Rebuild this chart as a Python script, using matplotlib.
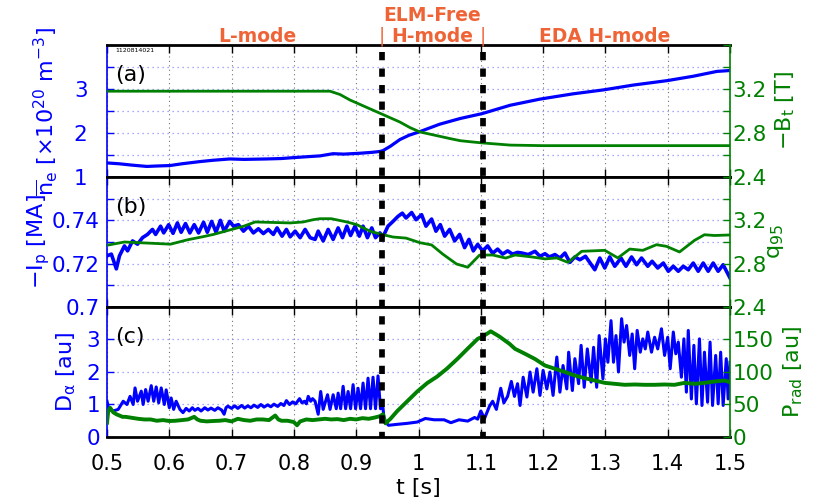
import numpy as np
import matplotlib
matplotlib.use("Agg")
import matplotlib.pyplot as plt

plt.rcParams['font.family'] = ['DejaVu Sans']
plt.rcParams['mathtext.fontset'] = 'dejavusans'
plt.rcParams['mathtext.default'] = 'regular'

# ---------------- data ----------------
# (a) line-averaged density [1e20 m^-3] and -Bt [T]
t_ne = [0.500, 0.520, 0.540, 0.564, 0.580, 0.601, 0.620, 0.649, 0.670, 0.697,
        0.720, 0.756, 0.780, 0.799, 0.820, 0.842, 0.863, 0.880, 0.906, 0.925,
        0.938, 0.943, 0.955, 0.970, 0.985, 1.000, 1.034, 1.067, 1.102, 1.147,
        1.195, 1.248, 1.297, 1.345, 1.399, 1.441, 1.479, 1.500]
ne = [1.32, 1.30, 1.27, 1.24, 1.25, 1.26, 1.30, 1.35, 1.38, 1.41,
      1.40, 1.41, 1.42, 1.44, 1.46, 1.48, 1.53, 1.52, 1.54, 1.56,
      1.58, 1.60, 1.70, 1.85, 1.95, 2.02, 2.20, 2.33, 2.44, 2.63,
      2.77, 2.89, 2.98, 3.09, 3.19, 3.29, 3.40, 3.42]

t_bt = [0.500, 0.600, 0.700, 0.800, 0.858, 0.874, 0.890, 0.906, 0.922, 0.938,
        0.954, 0.970, 0.986, 1.002, 1.018, 1.034, 1.050, 1.067, 1.084, 1.102,
        1.125, 1.147, 1.200, 1.300, 1.400, 1.500]
bt = [3.18, 3.18, 3.18, 3.18, 3.18, 3.15, 3.10, 3.06, 3.02, 2.98,
      2.94, 2.90, 2.85, 2.81, 2.79, 2.77, 2.75, 2.73, 2.72, 2.71,
      2.70, 2.69, 2.685, 2.685, 2.685, 2.685]

# (b) -Ip [MA] and q95
t_ip = [0.500, 0.507, 0.515, 0.520, 0.528, 0.533, 0.541, 0.549, 0.557, 0.565,
        0.573, 0.578, 0.586, 0.591, 0.599, 0.606, 0.613, 0.619, 0.626, 0.633,
        0.640, 0.647, 0.655, 0.661, 0.668, 0.675, 0.682, 0.688, 0.697, 0.703,
        0.711, 0.719, 0.727, 0.735, 0.743, 0.751, 0.759, 0.767, 0.773, 0.781,
        0.788, 0.794, 0.802, 0.810, 0.818, 0.826, 0.834, 0.839, 0.847, 0.855,
        0.863, 0.871, 0.878, 0.885, 0.891, 0.898, 0.905, 0.911, 0.918, 0.925,
        0.931, 0.938, 0.943, 0.951, 0.959, 0.967, 0.974, 0.980, 0.989, 0.996,
        1.005, 1.012, 1.021, 1.028, 1.035, 1.042, 1.050, 1.058, 1.066, 1.074,
        1.081, 1.088, 1.095, 1.103, 1.111, 1.119, 1.127, 1.135, 1.143, 1.151,
        1.159, 1.166, 1.176, 1.187, 1.195, 1.203, 1.210, 1.219, 1.227, 1.235,
        1.243, 1.251, 1.259, 1.268, 1.283, 1.291, 1.299, 1.307, 1.315, 1.325,
        1.333, 1.342, 1.350, 1.358, 1.368, 1.375, 1.384, 1.393, 1.401, 1.409,
        1.417, 1.425, 1.433, 1.441, 1.449, 1.457, 1.465, 1.473, 1.481, 1.489,
        1.500]
ip = [0.7236, 0.7244, 0.7176, 0.7236, 0.7282, 0.7259, 0.7305, 0.7290, 0.7320, 0.7335,
      0.7358, 0.7335, 0.7373, 0.7342, 0.7380, 0.7340, 0.7388, 0.7345, 0.7385, 0.7342,
      0.7380, 0.7342, 0.7391, 0.7345, 0.7395, 0.7345, 0.7400, 0.7350, 0.7395, 0.7373,
      0.7380, 0.7350, 0.7373, 0.7342, 0.7361, 0.7339, 0.7358, 0.7335, 0.7365, 0.7327,
      0.7358, 0.7324, 0.7350, 0.7320, 0.7358, 0.7320, 0.7312, 0.7350, 0.7305, 0.7358,
      0.7312, 0.7365, 0.7320, 0.7373, 0.7330, 0.7373, 0.7327, 0.7373, 0.7320, 0.7365,
      0.7320, 0.7342, 0.7324, 0.7373, 0.7395, 0.7418, 0.7433, 0.7411, 0.7436, 0.7403,
      0.7426, 0.7373, 0.7406, 0.7350, 0.7380, 0.7327, 0.7358, 0.7305, 0.7335, 0.7274,
      0.7312, 0.7259, 0.7289, 0.7259, 0.7282, 0.7248, 0.7267, 0.7244, 0.7259, 0.7244,
      0.7252, 0.7249, 0.7242, 0.7257, 0.7234, 0.7246, 0.7231, 0.7242, 0.7226, 0.7249,
      0.7206, 0.7231, 0.7218, 0.7234, 0.7172, 0.7226, 0.7180, 0.7231, 0.7188, 0.7226,
      0.7188, 0.7231, 0.7195, 0.7226, 0.7188, 0.7211, 0.7180, 0.7203, 0.7165, 0.7188,
      0.7165, 0.7188, 0.7172, 0.7203, 0.7165, 0.7203, 0.7165, 0.7203, 0.7165, 0.7195,
      0.7134]

t_q = [0.500, 0.528, 0.602, 0.629, 0.655, 0.671, 0.693, 0.719, 0.738, 0.794,
       0.815, 0.831, 0.842, 0.860, 0.885, 0.901, 0.922, 0.941, 0.959, 0.980,
       1.002, 1.021, 1.039, 1.061, 1.079, 1.098, 1.119, 1.140, 1.155, 1.182,
       1.203, 1.222, 1.240, 1.262, 1.299, 1.320, 1.339, 1.360, 1.382, 1.398,
       1.419, 1.443, 1.459, 1.475, 1.500]
q95 = [2.97, 3.00, 2.98, 3.02, 3.05, 3.07, 3.105, 3.145, 3.185, 3.176,
       3.185, 3.206, 3.215, 3.215, 3.185, 3.16, 3.10, 3.07, 3.046, 3.036,
       2.994, 2.973, 2.888, 2.797, 2.767, 2.879, 2.88, 2.852, 2.88, 2.862,
       2.844, 2.853, 2.812, 2.914, 2.923, 2.853, 2.935, 2.923, 2.975, 2.96,
       2.908, 3.015, 3.067, 3.06, 3.065]

# (c) D-alpha [au] and Prad [au]
t_da = [0.500, 0.503, 0.510, 0.518, 0.526, 0.532, 0.537, 0.542, 0.545, 0.549,
        0.555, 0.558, 0.562, 0.566, 0.571, 0.575, 0.579, 0.583, 0.587, 0.592,
        0.595, 0.600, 0.603, 0.607, 0.611, 0.617, 0.622, 0.627, 0.632, 0.637,
        0.641, 0.646, 0.651, 0.657, 0.662, 0.667, 0.673, 0.678, 0.684, 0.688,
        0.691, 0.694, 0.700, 0.705, 0.710, 0.716, 0.721, 0.726, 0.731, 0.736,
        0.742, 0.747, 0.752, 0.758, 0.763, 0.768, 0.774, 0.779, 0.784, 0.788,
        0.793, 0.798, 0.803, 0.809, 0.813, 0.817, 0.820, 0.823, 0.827, 0.830,
        0.834, 0.839, 0.843, 0.847, 0.854, 0.858, 0.863, 0.868, 0.871, 0.875,
        0.879, 0.883, 0.887, 0.891, 0.895, 0.899, 0.903, 0.907, 0.911, 0.915,
        0.919, 0.923, 0.927, 0.931, 0.935, 0.939, 0.943, 0.945, 0.952, 0.966,
        0.982, 0.998, 1.011, 1.025, 1.041, 1.052, 1.065, 1.079, 1.090, 1.095,
        1.100, 1.106, 1.114, 1.119, 1.125, 1.132, 1.137, 1.143, 1.149, 1.154,
        1.159, 1.163, 1.168, 1.174, 1.179, 1.184, 1.190, 1.195, 1.200, 1.206,
        1.211, 1.216, 1.222, 1.227, 1.232, 1.238, 1.241, 1.247, 1.251, 1.257,
        1.261, 1.266, 1.271, 1.277, 1.281, 1.286, 1.290, 1.296, 1.300, 1.304,
        1.309, 1.313, 1.317, 1.321, 1.326, 1.330, 1.334, 1.339, 1.343, 1.347,
        1.351, 1.356, 1.360, 1.364, 1.368, 1.374, 1.379, 1.384, 1.390, 1.395,
        1.400, 1.404, 1.409, 1.413, 1.417, 1.422, 1.426, 1.430, 1.433, 1.438,
        1.442, 1.446, 1.451, 1.455, 1.459, 1.464, 1.468, 1.472, 1.477, 1.481,
        1.485, 1.489, 1.494, 1.497, 1.500]
da = [1.10, 0.85, 0.80, 0.85, 1.10, 1.00, 1.25, 1.00, 1.51, 1.10,
      1.41, 1.00, 1.46, 1.10, 1.58, 1.10, 1.54, 1.05, 1.51, 1.00,
      1.45, 0.90, 1.20, 0.85, 1.10, 0.85, 0.75, 0.88, 0.80, 0.90,
      0.82, 0.88, 0.80, 0.90, 0.83, 0.89, 0.82, 0.90, 0.83, 0.70,
      0.90, 0.95, 0.88, 0.96, 0.88, 0.97, 0.89, 0.96, 0.90, 0.98,
      0.91, 1.00, 0.92, 0.99, 0.93, 1.01, 0.94, 1.03, 0.97, 1.12,
      1.00, 1.08, 1.02, 1.18, 1.05, 1.10, 1.02, 1.25, 1.10, 1.18,
      1.10, 0.70, 1.40, 0.85, 1.30, 0.85, 1.30, 0.87, 1.35, 0.87,
      1.56, 0.87, 1.40, 0.87, 1.61, 0.87, 1.50, 0.87, 1.66, 0.87,
      1.81, 0.87, 1.84, 0.87, 1.88, 0.87, 0.90, 0.49, 0.36, 0.39,
      0.42, 0.46, 0.57, 0.53, 0.53, 0.44, 0.53, 0.49, 0.60, 0.55,
      0.80, 0.57, 0.95, 1.10, 0.85, 1.50, 1.05, 1.25, 1.71, 1.25,
      1.64, 0.97, 1.84, 1.23, 2.00, 1.38, 2.10, 1.28, 2.05, 1.48,
      2.00, 1.28, 2.46, 1.38, 2.20, 1.48, 2.61, 1.43, 2.41, 1.64,
      2.82, 1.53, 2.71, 1.69, 2.76, 1.53, 3.12, 1.79, 3.02, 2.30,
      3.58, 2.30, 3.12, 2.00, 3.64, 2.92, 3.43, 2.51, 3.17, 2.10,
      3.28, 2.61, 3.02, 2.71, 3.23, 2.61, 3.07, 2.71, 3.33, 2.51,
      3.07, 2.10, 3.23, 2.56, 2.92, 1.84, 3.02, 1.38, 3.28, 1.17,
      2.82, 1.02, 3.02, 0.97, 2.61, 1.07, 2.92, 0.97, 2.51, 1.02,
      2.61, 0.97, 2.41, 1.17, 2.30]

t_pr = [0.500, 0.502, 0.505, 0.510, 0.515, 0.520, 0.525, 0.530, 0.540, 0.550,
        0.560, 0.570, 0.580, 0.590, 0.600, 0.610, 0.620, 0.630, 0.640, 0.645,
        0.650, 0.660, 0.670, 0.680, 0.690, 0.700, 0.710, 0.720, 0.730, 0.740,
        0.750, 0.760, 0.770, 0.775, 0.780, 0.790, 0.800, 0.805, 0.810, 0.820,
        0.830, 0.840, 0.850, 0.860, 0.870, 0.880, 0.890, 0.900, 0.910, 0.920,
        0.930, 0.938, 0.943, 0.947,
        0.955, 0.966, 0.982, 0.998, 1.014, 1.030, 1.046, 1.063, 1.079, 1.095,
        1.103, 1.116, 1.130, 1.146, 1.155, 1.171, 1.187, 1.203, 1.219, 1.235,
        1.251, 1.267, 1.283, 1.299, 1.315, 1.331, 1.347, 1.363, 1.379, 1.395,
        1.411, 1.427, 1.443, 1.459, 1.475, 1.491, 1.500]
prad = [22, 40, 45, 38, 35, 33, 31, 31, 29.5, 28,
        27, 27, 25, 26, 24.6, 25, 26, 27, 31, 27,
        25, 24, 24.6, 25, 26, 24, 28, 26, 25, 27,
        27, 26, 33, 27, 25, 25, 23, 18, 24, 27,
        26, 27, 28, 27, 27.5, 26, 28, 27, 29, 28,
        30, 32, 35, 21,
        28, 40, 55, 70, 83, 93, 105.5, 120.7, 136, 151,
        154.5, 162.6, 154.5, 143.4, 135.6, 128, 120, 110, 105, 100,
        94.6, 90.5, 86.9, 83.3, 81.8, 80.3, 80.8, 80.3, 80.3, 80.8,
        80.3, 83.3, 81.8, 83.3, 85.4, 86.9, 84.4]

# transitions (L -> ELM-free H, ELM-free -> EDA H)
t_trans = [0.941, 1.103]

# ticks
x_ticks = [0.5, 0.6, 0.7, 0.8, 0.9, 1.0, 1.1, 1.2, 1.3, 1.4, 1.5]
x_labels = ['0.5', '0.6', '0.7', '0.8', '0.9', '1', '1.1', '1.2', '1.3', '1.4', '1.5']
ya_ticks = [1, 1.5, 2, 2.5, 3, 3.5, 4]
ya_labels = ['1', '', '2', '', '3', '', '']
yb_ticks = [0.70, 0.71, 0.72, 0.73, 0.74, 0.75, 0.76]
yb_labels = ['0.7', '', '0.72', '', '0.74', '', '']
yc_ticks = [0, 1, 2, 3, 4]
yc_labels = ['0', '1', '2', '3', '']
r_ticks = [2.4, 2.6, 2.8, 3.0, 3.2, 3.4, 3.6]
r_labels = ['2.4', '', '2.8', '', '3.2', '', '']
rc_ticks = [0, 50, 100, 150, 200]
rc_labels = ['0', '50', '100', '150', '']

BLUE = '#0000FF'
GREEN = '#008000'
ORANGE = '#EF6437'
GRIDBLUE = (0.55, 0.55, 1.0)
GRIDGRAY = (0.45, 0.45, 0.45)

fig = plt.figure(figsize=(8.19, 5.04), dpi=100)
L = 107 / 819
W = 623 / 819
H = 1 / 504
ax_a = fig.add_axes([L, 1 - 177 * H, W, 132 * H])
ax_b = fig.add_axes([L, 1 - 307 * H, W, 130 * H])
ax_c = fig.add_axes([L, 1 - 437 * H, W, 130 * H])
tw_a = ax_a.twinx()
tw_b = ax_b.twinx()
tw_c = ax_c.twinx()

def style(ax, tw, yt, yl, ylim, rt, rl, rlim, lpad):
    ax.set_xlim(0.5, 1.5)
    ax.set_xticks(x_ticks)
    ax.set_ylim(*ylim)
    ax.set_yticks(yt)
    ax.set_yticklabels(yl)
    tw.set_ylim(*rlim)
    tw.set_yticks(rt)
    tw.set_yticklabels(rl)
    ax.tick_params(axis='x', direction='in', top=True, bottom=True, length=6,
                   width=1, color='black', labelsize=15, pad=12)
    ax.tick_params(axis='y', direction='in', left=True, right=False, length=5,
                   width=1, colors=BLUE, labelsize=15.5, pad=lpad)
    tw.tick_params(axis='y', direction='in', right=True, length=5, width=1,
                   colors=GREEN, labelsize=15.5, pad=2)
    ax.grid(axis='x', color=GRIDGRAY, linestyle=(0, (1, 3)), linewidth=0.8)
    ax.grid(axis='y', color=GRIDBLUE, linestyle=(0, (1, 3)), linewidth=0.9)
    for s in ('top', 'bottom'):
        ax.spines[s].set_linewidth(2)
        ax.spines[s].set_color('black')
        tw.spines[s].set_visible(False)
    ax.spines['left'].set_color(BLUE)
    ax.spines['left'].set_linewidth(1.2)
    ax.spines['right'].set_visible(False)
    tw.spines['left'].set_visible(False)
    tw.spines['right'].set_color(GREEN)
    tw.spines['right'].set_linewidth(1.2)

style(ax_a, tw_a, ya_ticks, ya_labels, (1, 4), r_ticks, r_labels, (2.4, 3.6), 14)
style(ax_b, tw_b, yb_ticks, yb_labels, (0.70, 0.76), r_ticks, r_labels, (2.4, 3.6), 5)
style(ax_c, tw_c, yc_ticks, yc_labels, (0, 4), rc_ticks, rc_labels, (0, 200), 5)
ax_a.tick_params(axis='x', labelbottom=False)
ax_b.tick_params(axis='x', labelbottom=False)
ax_c.set_xticklabels(x_labels)

# series
ax_a.plot(t_ne, ne, color=BLUE, lw=2.3)
tw_a.plot(t_bt, bt, color=GREEN, lw=2.0)
ax_b.plot(t_ip, ip, color=BLUE, lw=2.6)
tw_b.plot(t_q, q95, color=GREEN, lw=2.0)
ax_c.plot(t_da, da, color=BLUE, lw=2.2)
tw_c.plot(t_pr, prad, color=GREEN, lw=2.8)

# labels
lab = 16
ax_a.set_ylabel(r'$\overline{n}_e$ [$\times$10$^{20}$ m$^{-3}$]', color=BLUE, fontsize=lab)
ax_b.set_ylabel(r'$-I_p$ [MA]', color=BLUE, fontsize=lab)
ax_c.set_ylabel(r'$D_\alpha$ [au]', color=BLUE, fontsize=lab)
tw_a.set_ylabel(r'$-B_t$ [T]', color=GREEN, fontsize=lab)
tw_b.set_ylabel(r'$q_{95}$', color=GREEN, fontsize=lab)
tw_c.set_ylabel(r'$P_{rad}$ [au]', color=GREEN, fontsize=lab)
ax_a.yaxis.set_label_coords(-0.075, 0.5)
ax_b.yaxis.set_label_coords(-0.088, 0.5)
ax_c.yaxis.set_label_coords(-0.047, 0.5)
tw_a.yaxis.set_label_coords(1.069, 0.5)
tw_b.yaxis.set_label_coords(1.058, 0.5)
tw_c.yaxis.set_label_coords(1.082, 0.5)
ax_c.set_xlabel('t [s]', fontsize=lab, labelpad=3)

# panel tags
for ax, tag in ((ax_a, '(a)'), (ax_b, '(b)'), (ax_c, '(c)')):
    ax.text(0.013, 0.77, tag, transform=ax.transAxes, fontsize=16,
            ha='left', va='center', color='black')
ax_a.text(0.013, 0.955, '1120814021', transform=ax_a.transAxes, fontsize=4.5,
          ha='left', va='center', color='black')

# regime labels
xt = ax_a.get_xaxis_transform()
kw = dict(transform=xt, color=ORANGE, fontsize=13.5, fontweight='bold',
          ha='center', va='center', clip_on=False)
ax_a.text(0.741, 1.068, 'L-mode', **kw)
ax_a.text(0.5 * (t_trans[0] + t_trans[1]), 1.227, 'ELM-Free', **kw)
ax_a.text(0.5 * (t_trans[0] + t_trans[1]), 1.068, 'H-mode', **kw)
ax_a.text(t_trans[0], 1.068, '|', **dict(kw, fontweight='normal'))
ax_a.text(t_trans[1], 1.068, '|', **dict(kw, fontweight='normal'))
ax_a.text(1.299, 1.068, 'EDA H-mode', **kw)

# dashed transition lines spanning all panels
ct = tw_c.get_xaxis_transform()
for tx in t_trans:
    tw_c.plot([tx, tx], [(437 - 52) / 130, 0], transform=ct, color='black',
              lw=4.1, linestyle=(0, (1.45, 1.45)), clip_on=False, zorder=10,
              solid_capstyle='butt', dash_capstyle='butt')

fig.savefig('out.png', dpi=100)
